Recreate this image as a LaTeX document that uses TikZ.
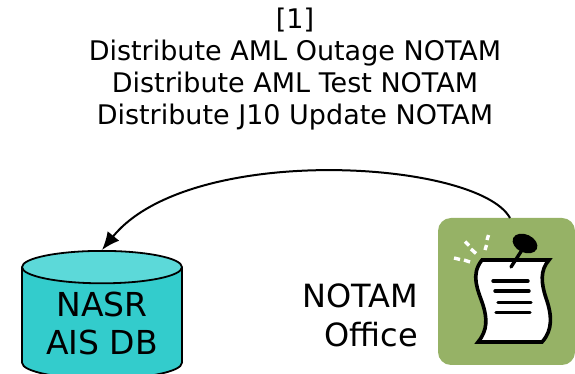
\documentclass[tikz,border=0pt]{standalone}
\usepackage{fontspec}
\setmainfont{DejaVu Sans}
\usepackage[x11names]{xcolor}
\usetikzlibrary{arrows,arrows.meta}
\usetikzlibrary{shapes.geometric}
\definecolor{dbBody}{HTML}{33CCCC}
\definecolor{dbTop}{HTML}{5CD9D9}
\definecolor{officeGreen}{HTML}{96B266}

\begin{document}
\begin{tikzpicture}[%
		x=1pt, y=1pt,
		>={Latex[length=18pt,width=15pt]},
		caption/.style={align=center, inner sep=0pt, font=\fontsize{27}{32}\selectfont},
		database/.style={cylinder, shape border rotate=90, shape aspect=0.29, draw, line width=1.8pt, cylinder uses custom fill, cylinder body fill=dbBody, cylinder end fill=dbTop, minimum width=160pt, minimum height=128pt, inner sep=0pt, align=center, font=\fontsize{33}{38}\selectfont},
		spark/.style={white, line width=3.4pt},
		textline/.style={line width=3.4pt, line cap=round}
		]

		\useasboundingbox (0, 0) rectangle (575, 374);

		\node[caption] (title) at (295, 305) {[1]\\Distribute AML Outage NOTAM\\Distribute AML Test NOTAM\\Distribute J10 Update NOTAM};

		\node[database, anchor=north] (nasr) at (102, 124) {NASR\\AIS DB};

		\node[fill=officeGreen, rounded corners=13pt, minimum width=137pt, minimum height=147pt, inner sep=0pt] (office) at (506.5, 82.5) {};
		\node[align=right, inner sep=0pt, anchor=east, font=\fontsize{32}{39}\selectfont] (officetext) at (418, 59) {NOTAM\\Office};

		\coordinate (officetop) at (510, 156);
		\draw[->, line width=2pt] (officetop) .. controls (478, 214) and (190, 232) .. (nasr.north);

		%% sheet of paper
		\draw[fill=white, line width=3.6pt, miter limit=3] (482, 114) -- (549, 114)
			.. controls (540, 104) and (541, 91) .. (546, 76)
			.. controls (552, 59) and (553, 44) .. (542, 32)
			-- (478, 32)
			.. controls (488, 44) and (487, 56) .. (483, 69)
			.. controls (478, 84) and (470, 99) .. (482, 114) -- cycle;
		\draw[textline] (493, 93) -- (528, 93);
		\draw[textline] (495, 83) -- (529, 83);
		\draw[textline] (498, 71.5) -- (531, 71.5);
		\draw[textline] (496, 61.5) -- (530, 61.5);

		%% pin
		\draw[line width=3.4pt, line cap=round] (511, 107) -- (522, 124);
		\fill[rotate around={-25:(525, 130.5)}] (525, 130.5) ellipse (13pt and 9pt);

		%% sparks
		\draw[spark] (454, 116) -- (460, 114.5);
		\draw[spark] (464, 114) -- (470, 112);
		\draw[spark] (465, 132.5) -- (469, 128.5);
		\draw[spark] (471, 125) -- (476, 120.5);
		\draw[spark] (485, 124) -- (486.5, 129);
		\draw[spark] (487, 134) -- (488.5, 139);
	\end{tikzpicture}
\end{document}
